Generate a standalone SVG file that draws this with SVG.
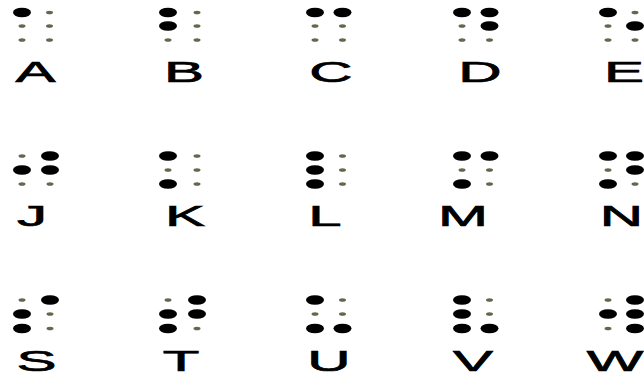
<svg xmlns="http://www.w3.org/2000/svg" width="644" height="375" viewBox="0 0 644 375">
<style>
.b{fill:#000}
.s{fill:#66664c}
.t{font-family:"Liberation Sans",Arial,sans-serif;font-size:30px;fill:#000;stroke:#000;stroke-width:0.7;text-anchor:middle}
</style>
<defs>
<ellipse id="B" rx="9" ry="4.8" class="b"/>
<ellipse id="S" rx="3.5" ry="1.8" class="s"/>
</defs>
<rect width="644" height="375" fill="#fff"/>
<g id="A"><use href="#B" x="22" y="12.5"/><use href="#S" x="22" y="26"/><use href="#S" x="22" y="40"/><use href="#S" x="49.5" y="12.5"/><use href="#S" x="49.5" y="26"/><use href="#S" x="49.5" y="40"/><text class="t" transform="translate(35.5,82) scale(2,1)">A</text></g>
<g id="Bl"><use href="#B" x="168" y="12.5"/><use href="#B" x="168" y="26"/><use href="#S" x="168" y="40"/><use href="#S" x="197" y="12.5"/><use href="#S" x="197" y="26"/><use href="#S" x="197" y="40"/><text class="t" transform="translate(184,82) scale(2,1)">B</text></g>
<g id="C"><use href="#B" x="315" y="12.5"/><use href="#S" x="315" y="26"/><use href="#S" x="315" y="40"/><use href="#B" x="342.5" y="12.5"/><use href="#S" x="342.5" y="26"/><use href="#S" x="342.5" y="40"/><text class="t" transform="translate(331,82) scale(2,1)">C</text></g>
<g id="D"><use href="#B" x="462" y="12.5"/><use href="#S" x="462" y="26"/><use href="#S" x="462" y="40"/><use href="#B" x="489.5" y="12.5"/><use href="#B" x="489.5" y="26"/><use href="#S" x="489.5" y="40"/><text class="t" transform="translate(480,82) scale(2,1)">D</text></g>
<g id="E"><use href="#B" x="608" y="12.5"/><use href="#S" x="608" y="26"/><use href="#S" x="608" y="40"/><use href="#S" x="635" y="12.5"/><use href="#B" x="635" y="26"/><use href="#S" x="635" y="40"/><text class="t" transform="translate(624,82) scale(2,1)">E</text></g>

<g id="J"><use href="#S" x="22" y="156"/><use href="#B" x="22" y="170"/><use href="#S" x="22" y="184"/><use href="#B" x="50" y="156"/><use href="#B" x="50" y="170"/><use href="#S" x="50" y="184"/><text class="t" transform="translate(32,226) scale(2,1)">J</text></g>
<g id="K"><use href="#B" x="168" y="156"/><use href="#S" x="168" y="170"/><use href="#B" x="168" y="184"/><use href="#S" x="197" y="156"/><use href="#S" x="197" y="170"/><use href="#S" x="197" y="184"/><text class="t" transform="translate(185,226) scale(2,1)">K</text></g>
<g id="L"><use href="#B" x="315" y="156"/><use href="#B" x="315" y="170"/><use href="#B" x="315" y="184"/><use href="#S" x="342.5" y="156"/><use href="#S" x="342.5" y="170"/><use href="#S" x="342.5" y="184"/><text class="t" transform="translate(325,226) scale(2,1)">L</text></g>
<g id="M"><use href="#B" x="462" y="156"/><use href="#S" x="462" y="170"/><use href="#B" x="462" y="184"/><use href="#B" x="489.5" y="156"/><use href="#S" x="489.5" y="170"/><use href="#S" x="489.5" y="184"/><text class="t" transform="translate(463,226) scale(2,1)">M</text></g>
<g id="N"><use href="#B" x="608" y="156"/><use href="#S" x="608" y="170"/><use href="#B" x="608" y="184"/><use href="#B" x="635" y="156"/><use href="#B" x="635" y="170"/><use href="#S" x="635" y="184"/><text class="t" transform="translate(621.5,226) scale(2,1)">N</text></g>

<g id="Sl"><use href="#S" x="22" y="300"/><use href="#B" x="22" y="314"/><use href="#B" x="22" y="328.5"/><use href="#B" x="50" y="300"/><use href="#S" x="50" y="314"/><use href="#S" x="50" y="328.5"/><text class="t" transform="translate(36.5,370.5) scale(2,1)">S</text></g>
<g id="T"><use href="#S" x="168" y="300"/><use href="#B" x="168" y="314"/><use href="#B" x="168" y="328.5"/><use href="#B" x="197" y="300"/><use href="#B" x="197" y="314"/><use href="#S" x="197" y="328.5"/><text class="t" transform="translate(181,370.5) scale(2,1)">T</text></g>
<g id="U"><use href="#B" x="315" y="300"/><use href="#S" x="315" y="314"/><use href="#B" x="315" y="328.5"/><use href="#S" x="342.5" y="300"/><use href="#S" x="342.5" y="314"/><use href="#B" x="342.5" y="328.5"/><text class="t" transform="translate(329,370.5) scale(2,1)">U</text></g>
<g id="V"><use href="#B" x="462" y="300"/><use href="#B" x="462" y="314"/><use href="#B" x="462" y="328.5"/><use href="#S" x="489.5" y="300"/><use href="#S" x="489.5" y="314"/><use href="#B" x="489.5" y="328.5"/><text class="t" transform="translate(473,370.5) scale(2,1)">V</text></g>
<g id="W"><use href="#S" x="608" y="300"/><use href="#B" x="608" y="314"/><use href="#S" x="608" y="328.5"/><use href="#B" x="635" y="300"/><use href="#B" x="635" y="314"/><use href="#B" x="635" y="328.5"/><text class="t" transform="translate(615,370.5) scale(2,1)">W</text></g>
</svg>
